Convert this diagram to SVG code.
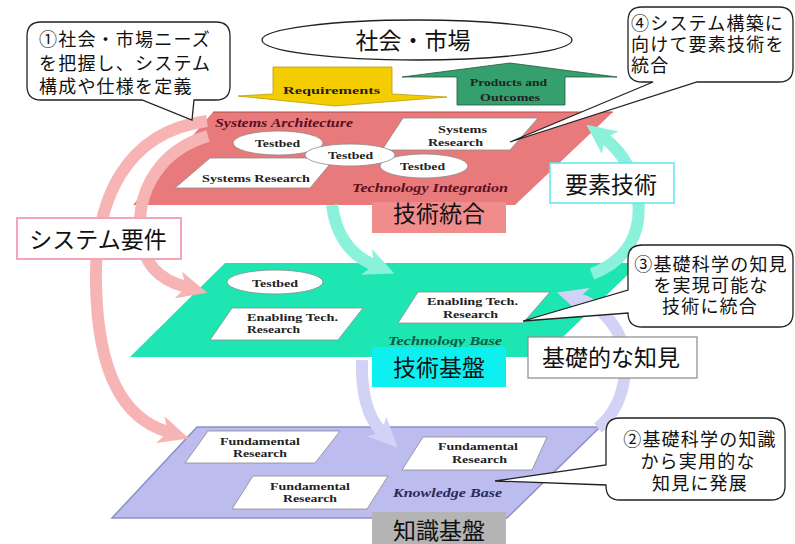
<svg xmlns="http://www.w3.org/2000/svg" width="795" height="544" viewBox="0 0 795 544">
<defs>
<style>
.jp{font-family:"Noto Sans CJK JP","Noto Sans CJK SC",sans-serif;fill:#111;}
.co{font-size:18px;letter-spacing:1.2px;}
.cc{font-size:18px;letter-spacing:1.2px;text-anchor:middle;}
.lb{font-size:23px;text-anchor:middle;}
.en{font-family:"Liberation Serif","Times New Roman",serif;font-weight:bold;font-size:11px;fill:#222;}
.it{font-family:"Liberation Serif","Times New Roman",serif;font-weight:bold;font-style:italic;font-size:13px;}
.wb{fill:#fff;stroke:#8a8a8a;stroke-width:0.8;}
.call{fill:#fff;stroke:#222;stroke-width:1.3;}
.arc{fill:none;stroke-width:12;}
</style>
<marker id="ah-pink" viewBox="0 0 30 30" refX="8" refY="15" markerWidth="30" markerHeight="30" orient="auto" markerUnits="userSpaceOnUse"><path d="M0,1 L30,15 L0,29 L8,15 Z" fill="#f7b4b4"/></marker>
<marker id="ah-teal" viewBox="0 0 30 30" refX="8" refY="15" markerWidth="30" markerHeight="30" orient="auto" markerUnits="userSpaceOnUse"><path d="M0,1 L30,15 L0,29 L8,15 Z" fill="#8af2da"/></marker>
<marker id="ah-lav" viewBox="0 0 30 30" refX="8" refY="15" markerWidth="30" markerHeight="30" orient="auto" markerUnits="userSpaceOnUse"><path d="M0,1 L30,15 L0,29 L8,15 Z" fill="#d2d2f7"/></marker>
</defs>
<rect width="795" height="544" fill="#fff"/>

<!-- society/market ellipse and flow arrows -->
<g id="market">
<ellipse cx="417" cy="40" rx="155" ry="20" fill="#fff" stroke="#222" stroke-width="1.3"/>
<text class="jp lb" x="413" y="49">社会・市場</text>
</g>
<g id="requirements">
<polygon points="273,67 392,67 392,94 447,97 335,106 238,96 273,94" fill="#f4cd00" stroke="#b89a10" stroke-width="0.8"/>
<text class="en" x="283" y="94" font-size="12" fill="#4a3a00" textLength="97" lengthAdjust="spacingAndGlyphs">Requirements</text>
</g>
<g id="products">
<polygon points="402,77 510,63 617,77 565,77 565,105 457,105 457,77" fill="#35a06e" stroke="#1f5a3c" stroke-width="0.8"/>
<text class="en" x="470" y="86" fill="#0e2e1e" textLength="77" lengthAdjust="spacingAndGlyphs">Products and</text>
<text class="en" x="480" y="101" fill="#0e2e1e" textLength="60" lengthAdjust="spacingAndGlyphs">Outcomes</text>
</g>

<!-- planes -->
<g id="plane-systems">
<polygon points="213,112 613,112 515,205 133,205" fill="#e97a7b"/>
<line x1="213" y1="112" x2="613" y2="112" stroke="#b04848" stroke-width="1"/>
</g>
<g id="plane-technology">
<polygon points="225,263 640,263 542,357 130,357" fill="#1ee6b2"/>
</g>
<g id="plane-knowledge">
<polygon points="197,427 600,427 507,518 112,518" fill="#bcbcee" stroke="#8e8ec8" stroke-width="1.5"/>
</g>

<!-- connectors -->
<g id="connectors">
<path class="arc" d="M207,121 C125,132 94,200 96,285 C98,372 122,418 168,432" stroke="#f7b4b4" marker-end="url(#ah-pink)"/>
<path class="arc" d="M208,136 C160,150 138,190 140,230 C142,265 160,280 186,287" stroke="#f7b4b4" marker-end="url(#ah-pink)"/>
<path class="arc" d="M332,205 C336,235 350,255 374,265" stroke="#8af2da" marker-end="url(#ah-teal)"/>
<path class="arc" d="M592,274 C628,260 642,232 638,200 C634,170 620,150 604,138" stroke="#8af2da" marker-end="url(#ah-teal)"/>
<path class="arc" d="M362,360 C361,395 368,418 382,432" stroke="#d2d2f7" marker-end="url(#ah-lav)"/>
<path class="arc" d="M598,428 C626,405 632,360 618,333 C608,314 594,304 578,299" stroke="#d2d2f7" marker-end="url(#ah-lav)"/>
</g>

<!-- systems plane contents -->
<g id="sys-research-left">
<polygon class="wb" points="210,158 335,158 310,188 175,188"/>
<text class="en" x="202" y="182" textLength="108" lengthAdjust="spacingAndGlyphs">Systems Research</text>
</g>
<g id="sys-research-right">
<polygon class="wb" points="403,118 538,118 510,150 382,150"/>
<text class="en" x="438" y="133" textLength="49" lengthAdjust="spacingAndGlyphs">Systems</text>
<text class="en" x="428" y="146" textLength="55" lengthAdjust="spacingAndGlyphs">Research</text>
</g>
<g id="testbed-1">
<ellipse class="wb" cx="278" cy="143" rx="45" ry="12"/>
<text class="en" x="255" y="147" textLength="45" lengthAdjust="spacingAndGlyphs">Testbed</text>
</g>
<g id="testbed-3">
<ellipse class="wb" cx="424" cy="166" rx="44" ry="12"/>
<text class="en" x="400" y="170" textLength="45" lengthAdjust="spacingAndGlyphs">Testbed</text>
</g>
<g id="testbed-2">
<ellipse class="wb" cx="350" cy="155" rx="45" ry="11"/>
<text class="en" x="328" y="159" textLength="45" lengthAdjust="spacingAndGlyphs">Testbed</text>
</g>
<text class="it" x="215" y="127" fill="#5c0f1e" textLength="138" lengthAdjust="spacingAndGlyphs">Systems Architecture</text>
<text class="it" x="352" y="192" fill="#5c0f1e" textLength="156" lengthAdjust="spacingAndGlyphs">Technology Integration</text>

<!-- technology plane contents -->
<g id="tech-testbed">
<ellipse class="wb" cx="275" cy="282" rx="48" ry="12"/>
<text class="en" x="252" y="287" textLength="46" lengthAdjust="spacingAndGlyphs">Testbed</text>
</g>
<g id="enabling-left">
<polygon class="wb" points="232,308 363,308 338,340 210,340"/>
<text class="en" x="247" y="321" textLength="91" lengthAdjust="spacingAndGlyphs">Enabling Tech.</text>
<text class="en" x="247" y="333" textLength="53" lengthAdjust="spacingAndGlyphs">Research</text>
</g>
<g id="enabling-right">
<polygon class="wb" points="418,292 550,292 523,323 398,323"/>
<text class="en" x="427" y="305" textLength="91" lengthAdjust="spacingAndGlyphs">Enabling Tech.</text>
<text class="en" x="443" y="318" textLength="55" lengthAdjust="spacingAndGlyphs">Research</text>
</g>
<text class="it" x="388" y="345" fill="#0b5a48" textLength="114" lengthAdjust="spacingAndGlyphs">Technology Base</text>

<!-- knowledge plane contents -->
<g id="fund-tl">
<polygon class="wb" points="208,431 340,431 315,463 185,463"/>
<text class="en" x="220" y="445" textLength="80" lengthAdjust="spacingAndGlyphs">Fundamental</text>
<text class="en" x="233" y="457" textLength="54" lengthAdjust="spacingAndGlyphs">Research</text>
</g>
<g id="fund-r">
<polygon class="wb" points="423,437 547,437 532,470 402,470"/>
<text class="en" x="438" y="450" textLength="80" lengthAdjust="spacingAndGlyphs">Fundamental</text>
<text class="en" x="452" y="463" textLength="55" lengthAdjust="spacingAndGlyphs">Research</text>
</g>
<g id="fund-b">
<polygon class="wb" points="253,476 388,476 367,509 232,509"/>
<text class="en" x="270" y="490" textLength="80" lengthAdjust="spacingAndGlyphs">Fundamental</text>
<text class="en" x="283" y="502" textLength="54" lengthAdjust="spacingAndGlyphs">Research</text>
</g>
<text class="it" x="393" y="497" fill="#2a2a5a" textLength="109" lengthAdjust="spacingAndGlyphs">Knowledge Base</text>

<!-- label boxes -->
<g id="label-integration">
<rect x="372" y="202" width="134" height="31" fill="#f08c8c"/>
<text class="jp lb" x="439" y="222">技術統合</text>
</g>
<g id="label-techbase">
<rect x="372" y="347" width="134" height="40" fill="#0ef0f0"/>
<text class="jp lb" x="439" y="376">技術基盤</text>
</g>
<g id="label-knowledge">
<rect x="372" y="512" width="134" height="34" fill="#b4b4b4"/>
<text class="jp lb" x="439" y="539">知識基盤</text>
</g>
<g id="label-element">
<rect x="550" y="163" width="124" height="40" fill="#fff" stroke="#5ee6ee" stroke-width="1.5"/>
<text class="jp lb" x="611" y="193">要素技術</text>
</g>
<g id="label-basic">
<rect x="528" y="337" width="169" height="41" fill="#fff" stroke="#8a8a8a" stroke-width="1.2"/>
<text class="jp lb" x="611" y="366">基礎的な知見</text>
</g>
<g id="label-sysreq">
<rect x="17" y="218" width="164" height="41" fill="#fff" stroke="#f2a6b8" stroke-width="2"/>
<text class="jp lb" x="98" y="248" font-size="22">システム要件</text>
</g>

<!-- callouts -->
<g id="callout-1">
<path class="call" d="M41,22 H216 Q230,22 230,36 V86 Q230,100 216,100 H194 L192,120 L142,100 H41 Q27,100 27,86 V36 Q27,22 41,22 Z"/>
<text class="jp co" x="39" y="46">①社会・市場ニーズ</text>
<text class="jp co" x="39" y="70">を把握し、システム</text>
<text class="jp co" x="39" y="93">構成や仕様を定義</text>
</g>
<g id="callout-4">
<path class="call" d="M642,7 H779 Q793,7 793,21 V68 Q793,82 779,82 H697 L510,142 L653,82 H642 Q628,82 628,68 V21 Q628,7 642,7 Z"/>
<text class="jp co" x="631" y="30">④システム構築に</text>
<text class="jp co" x="631" y="51">向けて要素技術を</text>
<text class="jp co" x="631" y="72">統合</text>
</g>
<g id="callout-3">
<path class="call" d="M642,245 H779 Q793,245 793,259 V313 Q793,327 779,327 H642 Q628,327 628,313 L523,321 L628,290 V259 Q628,245 642,245 Z"/>
<text class="jp cc" x="711" y="271">③基礎科学の知見</text>
<text class="jp cc" x="711" y="292">を実現可能な</text>
<text class="jp cc" x="710" y="313">技術に統合</text>
</g>
<g id="callout-2">
<path class="call" d="M620,418 H771 Q785,418 785,432 V486 Q785,500 771,500 H620 Q606,500 606,486 V485 L495,481 L606,465 V432 Q606,418 620,418 Z"/>
<text class="jp cc" x="700" y="446">②基礎科学の知識</text>
<text class="jp cc" x="698" y="468">から実用的な</text>
<text class="jp cc" x="700" y="490">知見に発展</text>
</g>
</svg>
